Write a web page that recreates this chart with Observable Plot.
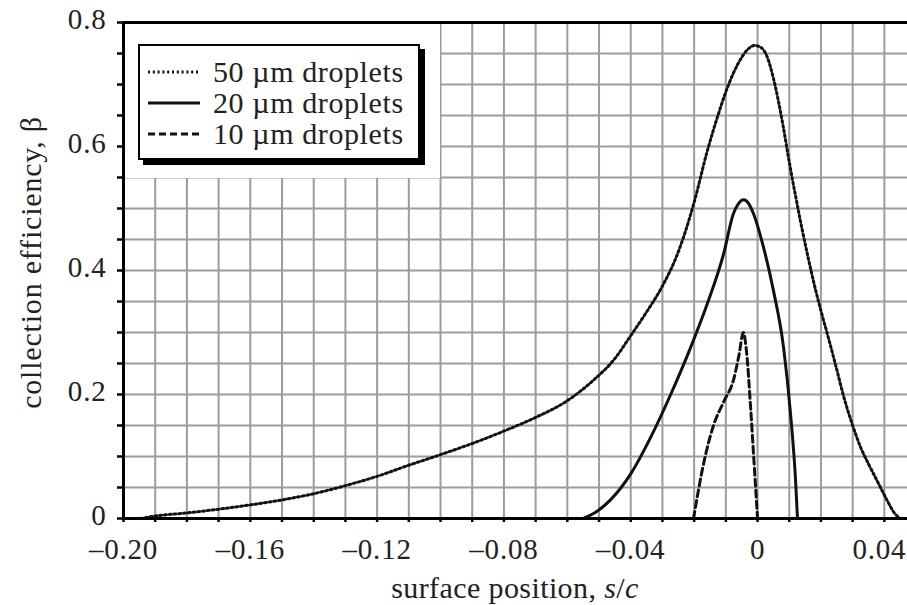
<!DOCTYPE html>
<html>
<head>
<meta charset="utf-8">
<script src="https://cdn.jsdelivr.net/npm/d3@7"></script>
<script src="https://cdn.jsdelivr.net/npm/@observablehq/plot@0.6"></script>
<style>
  html, body { margin: 0; padding: 0; background: #fff; overflow: hidden; }
  #wrap { position: relative; width: 907px; height: 605px; font-family: "Liberation Serif", "Times New Roman", serif; color: #222; }
  #chart svg text { letter-spacing: 0.8px; }
  #legendBg { position: absolute; left: 125px; top: 24px; width: 315px; height: 154px; background: #fff; }
  #legend { position: absolute; left: 138px; top: 44px; width: 278px; height: 112px; border: 2px solid #000; box-shadow: 5px 5px 0 #000; background: #fff; }
  .row { position: absolute; left: 0; height: 31px; display: flex; align-items: center; font-size: 30px; letter-spacing: 0.6px; white-space: nowrap; line-height: 1; }
  .row svg { margin-left: 8px; margin-right: 13px; }
  #xlabel { position: absolute; left: 0; width: 907px; top: 573px; line-height: 1; text-align: center; font-size: 30px; letter-spacing: 0.4px; padding-left: 123px; box-sizing: border-box; }
</style>
</head>
<body>
<div id="wrap">
  <div id="chart"></div>
  <div id="legendBg"></div>
  <div id="legend"></div>
  <div id="xlabel">surface position, <i>s</i>/<i>c</i></div>
</div>
<script>
// ---- data ----
const series = ["50 µm droplets", "20 µm droplets", "10 µm droplets"];

const x50 = [-0.1946, -0.19, -0.18, -0.17, -0.16, -0.15, -0.14, -0.13, -0.12, -0.11, -0.10, -0.09, -0.08, -0.07, -0.06, -0.052, -0.045, -0.04, -0.035, -0.03, -0.025, -0.02, -0.016, -0.0125, -0.0095, -0.006, -0.003, -0.001, 0.001, 0.003, 0.005, 0.008, 0.010, 0.012, 0.014, 0.016, 0.018, 0.020, 0.022, 0.025, 0.027, 0.030, 0.0325, 0.035, 0.038, 0.041, 0.043, 0.045];
const y50 = [0, 0.004, 0.009, 0.015, 0.022, 0.03, 0.04, 0.053, 0.068, 0.086, 0.103, 0.121, 0.141, 0.163, 0.19, 0.222, 0.258, 0.295, 0.333, 0.375, 0.43, 0.51, 0.59, 0.65, 0.695, 0.735, 0.757, 0.763, 0.76, 0.745, 0.71, 0.635, 0.575, 0.52, 0.468, 0.42, 0.375, 0.335, 0.298, 0.24, 0.2, 0.15, 0.115, 0.088, 0.058, 0.028, 0.01, 0];

const x20 = [-0.0549, -0.0505, -0.0464, -0.04, -0.0338, -0.0274, -0.0211, -0.0158, -0.0107, -0.0076, -0.006, -0.0044, -0.0028, -0.0013, 0.0019, 0.005, 0.0082, 0.0104, 0.012, 0.0126];
const y20 = [0, 0.012, 0.03, 0.072, 0.13, 0.2, 0.276, 0.347, 0.427, 0.492, 0.508, 0.514, 0.508, 0.492, 0.437, 0.368, 0.276, 0.169, 0.061, 0];

const x10 = [-0.0202, -0.017, -0.0139, -0.0105, -0.0075, -0.0058, -0.0045, -0.0035, -0.0022, -0.0011, 0];
const y10 = [0, 0.089, 0.15, 0.19, 0.225, 0.265, 0.30, 0.27, 0.18, 0.09, 0];

const xGrid = d3.range(-19, 5).map(i => i / 100);
const yGrid = d3.range(1, 16).map(i => i / 20);
const xTickValues = d3.range(-20, 5).map(i => i / 100);
const yTickValues = d3.range(0, 17).map(i => i / 20);
const xLabelValues = [-0.20, -0.16, -0.12, -0.08, -0.04, 0];
const xLabelText = ["–0.20", "–0.16", "–0.12", "–0.08", "–0.04", "0"];
const xEdgeLabelValues = [0.04];
const xEdgeLabelText = ["0.04"];
const yLabelValues = [0, 0.2, 0.4, 0.6, 0.8];
const yLabelText = ["0", "0.2", "0.4", "0.6", "0.8"];

// ---- build ----
const styles = [
  {strokeWidth: 3, strokeDasharray: "2,2.8"},
  {strokeWidth: 3, strokeDasharray: "none"},
  {strokeWidth: 3, strokeDasharray: "7,4"}
];
const toRows = (xs, ys) => xs.map((x, i) => ({x, y: ys[i]}));
const data = [toRows(x50, y50), toRows(x20, y20), toRows(x10, y10)];

const lineMarks = data.map((d, i) => Plot.line(d, {
  x: "x", y: "y", stroke: "#111", curve: "monotone-x",
  strokeWidth: styles[i].strokeWidth,
  strokeDasharray: styles[i].strokeDasharray
}));

const chart = Plot.plot({
  width: 907,
  height: 605,
  marginTop: 22,
  marginBottom: 87,
  marginLeft: 123,
  marginRight: 0,
  style: {fontFamily: "'Liberation Serif', 'Times New Roman', serif", fontSize: "29px", color: "#222", background: "#fff"},
  x: {domain: [-0.2, 0.0473]},
  y: {domain: [0, 0.8]},
  marks: [
    Plot.ruleX(xGrid, {stroke: "#9c9c9c", strokeWidth: 2}),
    Plot.ruleY(yGrid, {stroke: "#9c9c9c", strokeWidth: 2}),
    Plot.axisX(xTickValues, {tickSize: 4, tickFormat: () => "", stroke: "#000", strokeWidth: 2.5, label: null}),
    Plot.axisX(xLabelValues, {tickSize: 0, tickPadding: 20, tickFormat: d => xLabelText[xLabelValues.indexOf(d)], label: null, fill: "#222"}),
    Plot.axisX(xEdgeLabelValues, {tickSize: 0, tickPadding: 20, textAnchor: "end", dx: 22, tickFormat: d => xEdgeLabelText[xEdgeLabelValues.indexOf(d)], label: null, fill: "#222"}),
    Plot.axisY(yTickValues, {tickSize: 6, tickFormat: () => "", stroke: "#000", strokeWidth: 2.5, label: null}),
    Plot.axisY(yLabelValues, {tickSize: 0, tickPadding: 17, dy: -3, tickFormat: d => yLabelText[yLabelValues.indexOf(d)], label: null, fill: "#222"}),
    ...lineMarks,
    Plot.ruleY([0, 0.8], {stroke: "#000", strokeWidth: 3}),
    Plot.ruleX([-0.2], {stroke: "#000", strokeWidth: 3}),
    Plot.text(["collection efficiency, β"], {frameAnchor: "left", textAnchor: "middle", dx: -92, dy: -8, rotate: -90, text: d => d, fill: "#222", fontSize: 30})
  ]
});
document.getElementById("chart").appendChild(chart);

// make sure the line styles are on the paths themselves
d3.select(chart).selectAll("g[aria-label='line']").each(function(_, i) {
  d3.select(this).selectAll("path").attr("stroke-dasharray", styles[i].strokeDasharray);
});

// ---- legend ----
const legend = document.getElementById("legend");
series.forEach((name, i) => {
  const row = document.createElement("div");
  row.className = "row";
  row.style.top = (10 + i * 31) + "px";
  row.innerHTML = `<svg width="52" height="10"><line x1="0" y1="5" x2="52" y2="5" stroke="#111" stroke-width="${styles[i].strokeWidth}" stroke-dasharray="${styles[i].strokeDasharray}"/></svg><span>${name}</span>`;
  legend.appendChild(row);
});
</script>
</body>
</html>
